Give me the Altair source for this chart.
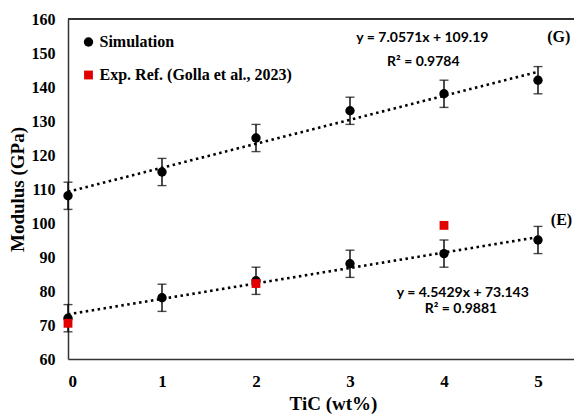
import altair as alt
import pandas as pd

# ---- data ----
tic = [0, 1, 2, 3, 4, 5]
sim_g = [108, 115, 125, 133, 138, 142]   # Simulation (G)
err_g = [4, 4, 4, 4, 4, 4]
sim_e = [72, 78, 83, 88, 91, 95]         # Simulation (E)
err_e = [4, 4, 4, 4, 4, 4]
exp_x = [0, 2, 4]
exp_e = [70.5, 82.2, 99.3]               # Exp. Ref. (E)
series_names = ["Simulation", "Exp. Ref. (Golla et al., 2023)"]
y_ticks = [60, 70, 80, 90, 100, 110, 120, 130, 140, 150, 160]

eq_text = ["y = 7.0571x + 109.19", "R² = 0.9784", "y = 4.5429x + 73.143", "R² = 0.9881"]
eq_x = [3.77, 3.78, 4.2, 4.18]
eq_y = [154.4, 147.3, 79.3, 74.8]
tag_text = ["(G)", "(E)"]
tag_x = [5.22, 5.25]
tag_y = [154.6, 101.0]

# ---- tables ----
sim = pd.DataFrame({
    "x": tic * 2,
    "y": sim_g + sim_e,
    "err": err_g + err_e,
    "group": ["G"] * len(tic) + ["E"] * len(tic),
    "series": series_names[0],
})
sim["lo"] = sim["y"] - sim["err"]
sim["hi"] = sim["y"] + sim["err"]
exp = pd.DataFrame({"x": exp_x, "y": exp_e, "series": series_names[1]})
pts = pd.concat([sim[["x", "y", "series"]], exp], ignore_index=True)
eqs = pd.DataFrame({"x": eq_x, "y": eq_y, "t": eq_text})
tags = pd.DataFrame({"x": tag_x, "y": tag_y, "t": tag_text})

W, H = 506, 340
xs = alt.Scale(domain=[0, W / 94.0], nice=False, zero=False)
ys = alt.Scale(domain=[60, 160], nice=False, zero=False)
SERIF = "Liberation Serif"

xaxis = alt.Axis(values=tic, format="d", title="TiC (wt%)", grid=False, ticks=False,
                 labelFont=SERIF, labelFontSize=17, labelFontWeight="bold",
                 labelColor="black", labelPadding=14, labelOverlap=False,
                 titleFont=SERIF, titleFontSize=19, titleFontWeight="bold",
                 titleColor="black", titlePadding=5, titleX=265, titleAlign="center",
                 domainColor="#333", domainWidth=1.5)
yaxis = alt.Axis(values=y_ticks, format="d", title="Modulus (GPa)", grid=False,
                 ticks=False, labelFont=SERIF, labelFontSize=16, labelFontWeight="bold",
                 labelColor="black", labelPadding=13, labelOverlap=False,
                 titleFont=SERIF, titleFontSize=19, titleFontWeight="bold",
                 titleColor="black", titleX=-51, titleBaseline="middle",
                 domainColor="#333", domainWidth=1.5)


def X(field):
    return alt.X(field, scale=xs, axis=xaxis)


def Y(field):
    return alt.Y(field, scale=ys, axis=yaxis)


base_sim = alt.Chart(sim)

trend = base_sim.transform_regression(
    "x", "y", groupby=["group"], extent=[0, 5]
).mark_line(color="black", strokeWidth=2.6, strokeDash=[2.5, 3.5]).encode(
    x=X("x:Q"), y=Y("y:Q"), detail="group:N",
)

bars = base_sim.mark_rule(color="black", strokeWidth=1.4).encode(
    x=X("x:Q"), y=Y("lo:Q"), y2="hi:Q"
)
cap_lo = base_sim.mark_tick(color="black", thickness=1.4, size=9, orient="horizontal").encode(
    x=X("x:Q"), y=Y("lo:Q")
)
cap_hi = base_sim.mark_tick(color="black", thickness=1.4, size=9, orient="horizontal").encode(
    x=X("x:Q"), y=Y("hi:Q")
)

points = alt.Chart(pts).mark_point(filled=True, opacity=1).encode(
    x=X("x:Q"),
    y=Y("y:Q"),
    color=alt.Color("series:N", scale=alt.Scale(domain=series_names, range=["black", "#e00000"]),
                    legend=alt.Legend(title=None, orient="none", legendX=12.5, legendY=15,
                                      labelFont=SERIF, labelFontSize=16, labelFontWeight="bold",
                                      labelColor="black", symbolSize=72, rowPadding=17,
                                      padding=0, labelOffset=3, symbolStrokeWidth=0,
                                      labelLimit=400)),
    shape=alt.Shape("series:N", scale=alt.Scale(domain=series_names, range=["circle", "square"])),
    size=alt.Size("series:N", scale=alt.Scale(domain=series_names, range=[88, 78]), legend=None),
)

top = alt.Chart(pts).mark_rule(color="#333", strokeWidth=1.5).encode(
    y=alt.datum(160, scale=ys, axis=yaxis), x=alt.value(0), x2=alt.value(W)
)

eq = alt.Chart(eqs).mark_text(font="Lato", fontSize=14, fontWeight="bold", color="black",
                              align="center", baseline="middle").encode(
    x=X("x:Q"), y=Y("y:Q"), text="t:N"
)
tg = alt.Chart(tags).mark_text(font=SERIF, fontSize=16, fontWeight="bold", color="black",
                               align="center", baseline="middle").encode(
    x=X("x:Q"), y=Y("y:Q"), text="t:N"
)

chart = alt.layer(trend, bars, cap_lo, cap_hi, points, top, eq, tg).properties(
    width=W, height=H,
    autosize=alt.AutoSizeParams(type="none"),
    padding={"left": 60, "top": 11, "right": 0, "bottom": 59},
    background="white",
).configure_view(stroke=None)

chart.save("out.html", embed_options={"renderer": "svg", "actions": False})
